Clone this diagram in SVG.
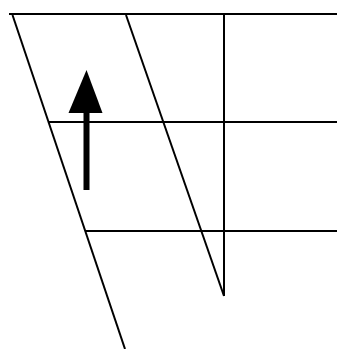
<svg xmlns="http://www.w3.org/2000/svg" width="337" height="349" viewBox="0 0 337 349">
<style>.ln{stroke:#000;stroke-width:2;fill:none}</style>
<rect width="337" height="349" fill="#fff"/>
<g id="connectors">
<line class="ln" x1="9" y1="14" x2="337" y2="14"/>
<line class="ln" x1="48" y1="122" x2="337" y2="122"/>
<line class="ln" x1="86" y1="231" x2="337" y2="231"/>
<line class="ln" x1="224" y1="14" x2="224" y2="296"/>
<line class="ln" x1="12.5" y1="15" x2="125" y2="349"/>
<line class="ln" x1="126" y1="15" x2="224" y2="296"/>
</g>
<g id="arrow">
<rect x="83.5" y="110" width="6" height="80" fill="#000"/>
<polygon points="86.5,70 68.5,113 102.5,113" fill="#000"/>
</g>
</svg>
